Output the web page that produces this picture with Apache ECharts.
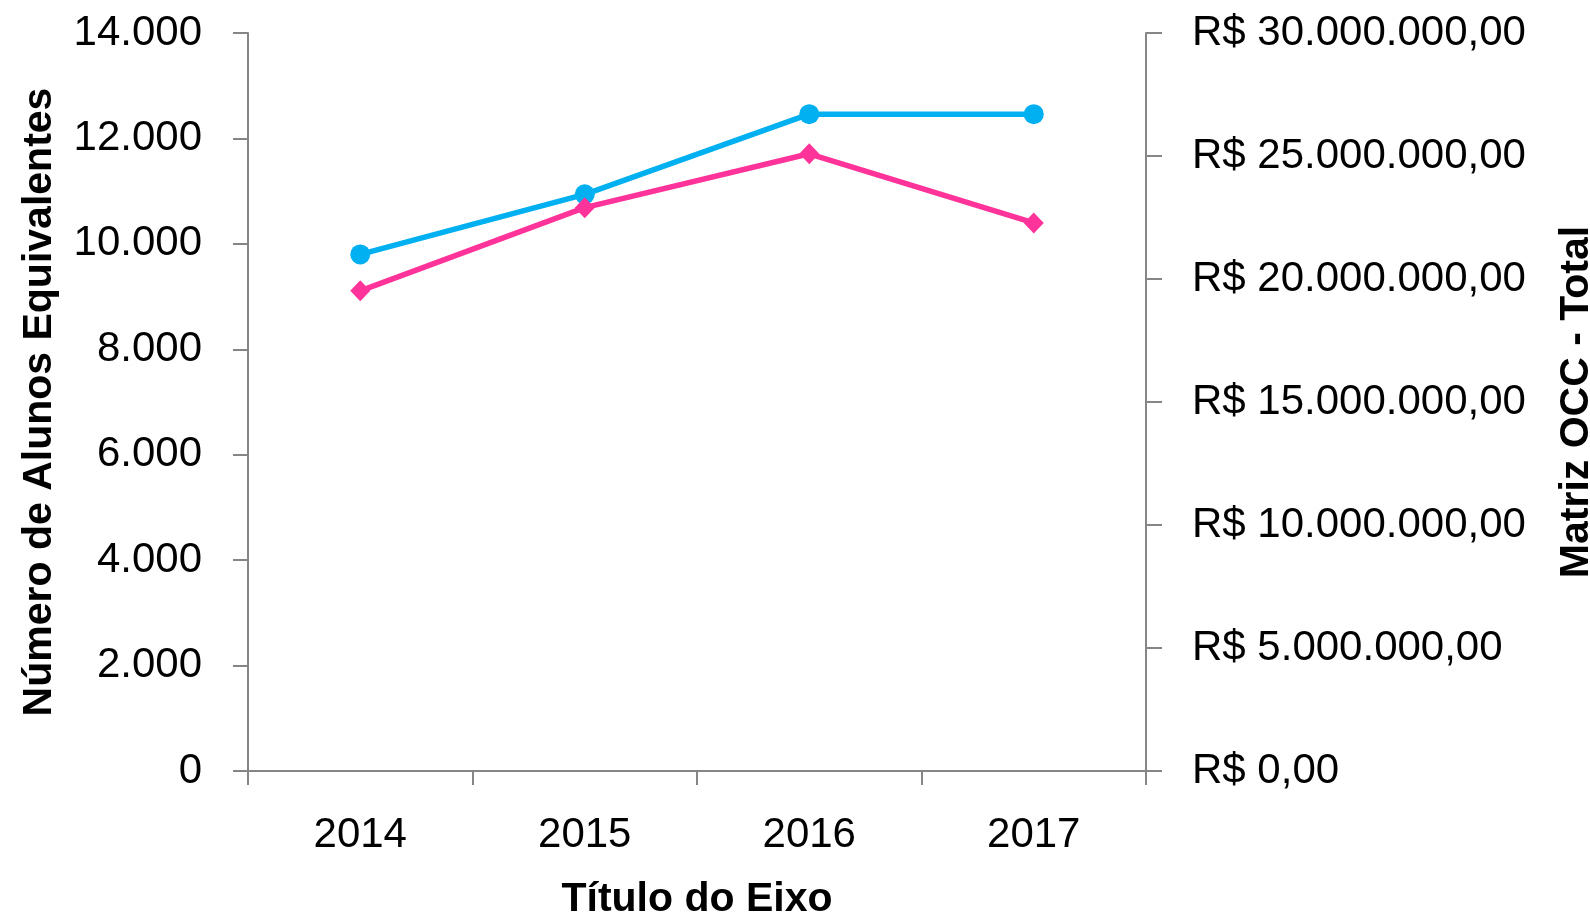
<!DOCTYPE html>
<html>
<head>
<meta charset="utf-8">
<script src="https://cdn.jsdelivr.net/npm/echarts@6/dist/echarts.min.js"></script>
<style>
  html, body { margin: 0; padding: 0; background: #fff; }
  #chart { width: 1590px; height: 917px; }
</style>
</head>
<body>
<div id="chart"></div>
<script>
var years = ['2014', '2015', '2016', '2017'];
var alunosEquivalentes = [9800, 10940, 12460, 12460];
var matrizOCC = [19520000, 22900000, 25090000, 22280000];
var leftTicks = [0, 14000, 2000];
var rightTicks = [0, 30000000, 5000000];

var sans = '"Liberation Sans", Arial, sans-serif';
var axisGrey = '#868686';

function fmtThousands(v) {
    return String(Math.round(v)).replace(/\B(?=(\d{3})+(?!\d))/g, '.');
}

var myChart = echarts.init(document.getElementById('chart'));

var option = {
    backgroundColor: '#fff',
    animation: false,
    grid: {
        left: 248,
        right: 444,
        top: 33,
        bottom: 146,
        outerBoundsMode: 'none'
    },
    xAxis: {
        type: 'category',
        data: years,
        boundaryGap: true,
        name: 'Título do Eixo',
        nameLocation: 'middle',
        nameGap: 108,
        nameTextStyle: { fontFamily: sans, fontWeight: 'bold', fontSize: 41, color: '#000' },
        axisLine: { lineStyle: { color: axisGrey, width: 2 } },
        axisTick: { show: true, length: 14, lineStyle: { color: axisGrey, width: 2 } },
        axisLabel: { margin: 43, fontFamily: sans, fontSize: 42, color: '#000' },
        splitLine: { show: false }
    },
    yAxis: [{
        type: 'value',
        position: 'left',
        min: leftTicks[0],
        max: leftTicks[1],
        interval: leftTicks[2],
        name: 'Número de Alunos Equivalentes',
        nameLocation: 'middle',
        nameRotate: 90,
        nameGap: 188,
        nameTextStyle: { fontFamily: sans, fontWeight: 'bold', fontSize: 41, color: '#000' },
        axisLine: { show: true, lineStyle: { color: axisGrey, width: 2 } },
        axisTick: { show: true, length: 15, lineStyle: { color: axisGrey, width: 2 } },
        axisLabel: { margin: 46, fontFamily: sans, fontSize: 42, color: '#000',
            padding: [6, 0, 0, 0],
            formatter: fmtThousands },
        splitLine: { show: false }
    }, {
        type: 'value',
        position: 'right',
        min: rightTicks[0],
        max: rightTicks[1],
        interval: rightTicks[2],
        name: 'Matriz OCC - Total',
        nameLocation: 'middle',
        nameRotate: 90,
        nameGap: 410,
        nameTextStyle: { fontFamily: sans, fontWeight: 'bold', fontSize: 41, color: '#000' },
        axisLine: { show: true, lineStyle: { color: axisGrey, width: 2 } },
        axisTick: { show: true, length: 16, lineStyle: { color: axisGrey, width: 2 } },
        axisLabel: { margin: 46, fontFamily: sans, fontSize: 42, color: '#000',
            padding: [6, 0, 0, 0],
            formatter: function (v) { return 'R$ ' + fmtThousands(v) + ',00'; } },
        splitLine: { show: false }
    }],
    series: [{
        name: 'Número de Alunos Equivalentes',
        type: 'line',
        yAxisIndex: 0,
        data: alunosEquivalentes,
        symbol: 'circle',
        symbolSize: 20,
        lineStyle: { color: '#00B0F0', width: 5.5 },
        itemStyle: { color: '#00B0F0' },
        z: 2
    }, {
        name: 'Matriz OCC - Total',
        type: 'line',
        yAxisIndex: 1,
        data: matrizOCC,
        symbol: 'diamond',
        symbolSize: [20, 21],
        lineStyle: { color: '#FF3399', width: 5.5 },
        itemStyle: { color: '#FF3399' },
        z: 3
    }]
};
myChart.setOption(option);
</script>
</body>
</html>
